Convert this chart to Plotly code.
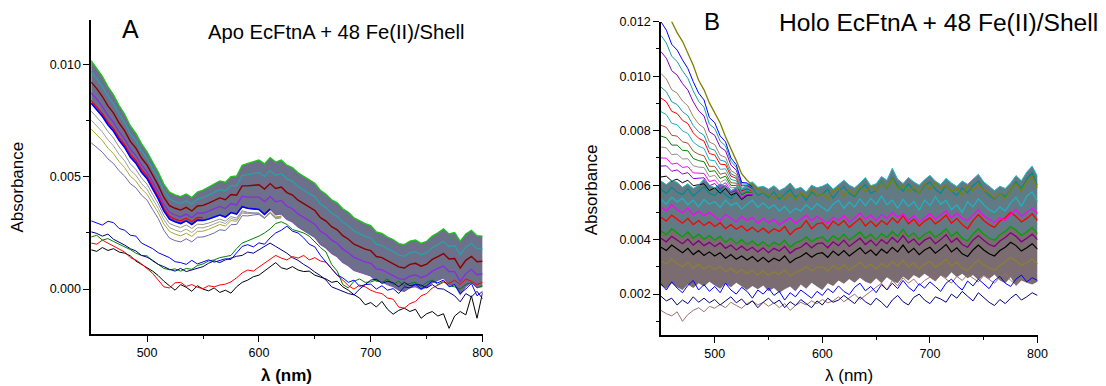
import plotly.graph_objects as go

# Wavelength grid (nm), every 5 nm
WL = list(range(450, 805, 5))
U = 1e-5  # all absorbance values below are in units of 1e-5

# ---------------- Panel A: Apo EcFtnA ----------------
A_TOP = [1018, 985, 948, 902, 866, 818, 779, 728, 694, 648,
         612, 566, 522, 468, 432, 420, 412, 424, 408, 432,
         441, 455, 468, 482, 476, 501, 504, 552, 560, 568,
         575, 558, 586, 566, 575, 552, 541, 518, 502, 488,
         472, 440, 423, 398, 384, 358, 342, 318, 304, 292,
         283, 255, 248, 232, 221, 203, 198, 214, 219, 204,
         213, 236, 251, 268, 246, 252, 214, 246, 262, 238,
         236]
A_BOT = [828, 800, 770, 732, 703, 663, 631, 588, 561, 521,
         492, 446, 402, 348, 312, 300, 292, 304, 288, 307,
         306, 312, 320, 330, 321, 341, 334, 367, 360, 358,
         355, 333, 356, 331, 335, 310, 299, 276, 260, 246,
         230, 198, 183, 158, 144, 118, 104, 83, 74, 64,
         58, 35, 33, 20, 11, -5, -10, 6, 11, -1,
         8, 28, 39, 50, 21, 20, -24, 11, 30, 8,
         11]
A_L1 = [970, 939, 903, 859, 825, 779, 742, 693, 661, 616,
        582, 536, 492, 438, 402, 390, 382, 394, 378, 401,
        407, 419, 431, 444, 437, 461, 461, 506, 510, 515,
        520, 502, 528, 507, 515, 491, 480, 457, 441, 427,
        411, 379, 363, 338, 324, 298, 282, 259, 246, 235,
        227, 200, 194, 179, 168, 151, 146, 162, 167, 153,
        162, 184, 198, 213, 190, 194, 154, 187, 204, 180,
        180]
A_L2 = [922, 893, 858, 816, 784, 740, 705, 658, 628, 584,
        552, 506, 462, 408, 372, 360, 352, 364, 348, 370,
        373, 383, 394, 406, 398, 421, 418, 460, 460, 462,
        465, 446, 470, 448, 455, 430, 419, 396, 380, 366,
        350, 318, 303, 278, 264, 238, 222, 200, 188, 178,
        171, 145, 140, 126, 115, 99, 94, 110, 115, 102,
        111, 132, 145, 158, 134, 136, 94, 128, 146, 122,
        124]
A_L3 = [874, 847, 813, 773, 743, 701, 668, 623, 595, 552,
        522, 476, 432, 378, 342, 330, 322, 334, 318, 339,
        339, 347, 357, 368, 359, 381, 375, 414, 410, 409,
        410, 390, 412, 389, 395, 369, 358, 335, 319, 305,
        289, 257, 243, 218, 204, 178, 162, 141, 130, 121,
        115, 90, 86, 73, 62, 47, 42, 58, 63, 51,
        60, 80, 92, 103, 78, 78, 34, 69, 88, 64,
        68]
# early spectra fanning below the band (450-620 nm)
A_GREY = [793, 767, 738, 702, 673, 633, 601, 558, 533, 495, 467, 422, 380, 328, 292, 282, 274, 286,
          270, 289, 288, 294, 302, 312, 303, 323, 316, 349, 342, 340, 337, 315, 338, 313, 317]
A_GREY2 = [753, 728, 700, 665, 638, 600, 571, 530, 507, 470, 444, 401, 360, 309, 274, 263, 255, 267,
           252, 273, 273, 280, 289, 300, 292, 314, 309, 344, 339, 339, 338, 317, 341, 317, 321]
A_OLIVE = [713, 688, 662, 628, 603, 568, 541, 503, 481, 446, 422, 380, 340, 290, 257, 245, 237, 249,
           235, 257, 258, 266, 276, 288, 281, 305, 302, 339, 336, 338, 339, 319, 344, 321, 325]
A_SLATE = [652, 632, 610, 580, 559, 527, 503, 470, 451, 419, 396, 354, 314, 262, 227, 216, 210, 224,
           210, 231, 232, 240, 250, 264, 261, 287, 288, 327, 326, 330, 333, 315, 341, 319, 325]
A_REDEDGE = [840, 812, 782, 744, 715, 675, 643, 600, 573, 533, 504, 458, 414, 360, 324, 312, 304,
             316, 300, 319, 318]
# first few spectra (low)
A_LBLUE = [304, 296, 285, 302, 296, 270, 262, 240, 236, 205,
           192, 180, 162, 150, 140, 122, 118, 110, 128, 112,
           122, 130, 120, 128, 135, 132, 160, 190, 198, 188,
           206, 200, 228, 250, 262, 280, 258, 250, 228, 200,
           188, 150, 120, 90, 62, 50, 30, 40, 12, 20,
           22, 0, 15, -5, 2, -20, 10, 5, 22, 0,
           15, 35, 28, 40, 10, 20, -20, 0, 25, -30,
           -10]
A_NAVY = [255, 248, 236, 245, 222, 210, 196, 180, 170, 150,
          142, 128, 110, 100, 88, 80, 92, 78, 85, 95,
          100, 115, 126, 118, 130, 138, 146, 150, 165, 160,
          176, 190, 205, 190, 174, 160, 140, 128, 110, 95,
          76, 60, 40, 10, 0, -10, -20, -26, 0, 20,
          40, 44, 25, 35, 28, 10, 30, 15, 20, 18,
          5, 20, 2, 0, -15, -30, -57, -20, -35, -10,
          -43]
A_GREEN = [232, 240, 218, 225, 212, 200, 185, 176, 160, 150,
           148, 125, 110, 92, 86, 90, 80, 92, 88, 105,
           112, 125, 130, 140, 145, 150, 180, 205, 215, 225,
           236, 250, 268, 292, 300, 288, 265, 258, 250, 236,
           210, 185, 165, 110, 80, 20, 5, 35, 45, 30,
           32, 40, 30, 45, 20, 35, 15, 25, 30, 10,
           30, 40, 20, 35, 15, 10, 0, 20, 30, 5,
           15]
A_RED = [205, 200, 218, 205, 190, 178, 165, 140, 130, 112,
         90, 70, 40, 10, 5, 28, 30, 12, 20, 8,
         2, 15, 10, 18, 22, 32, 50, 72, 85, 80,
         98, 115, 135, 150, 138, 130, 145, 138, 150, 130,
         140, 125, 120, 90, 62, 40, 15, 0, 18, 10,
         -5, -15, -20, -40, -45, -80, -85, -65, -55, -30,
         -20, 5, 18, 30, 25, 40, 20, 45, 35, 20,
         30]
A_BLACK = [175, 168, 185, 172, 180, 165, 160, 148, 125, 110,
           92, 80, 60, 35, 15, -5, 20, 8, -10, 15,
           0, -8, 5, -15, -5, -18, 10, 30, 40, 55,
           62, 80, 100, 118, 95, 88, 100, 85, 78, 80,
           62, 55, 45, 30, 35, 10, -5, -25, -40, -70,
           -60, -80, -55, -90, -112, -95, -85, -100, -90, -130,
           -110, -100, -120, -110, -175, -120, -100, -115, -30, -130,
           -15]

# ---------------- Panel B: Holo EcFtnA ----------------
B_TOP = [1280, 1240, 1195, 1160, 1128, 1082, 1040, 985, 950, 902,
         862, 828, 778, 735, 690, 642, 618, 600, 588, 572,
         566, 552, 565, 548, 570, 545, 572, 556, 585, 560,
         570, 550, 580, 588, 560, 582, 565, 595, 575, 598,
         580, 610, 590, 625, 585, 600, 575, 595, 570, 605,
         585, 610, 588, 600, 575, 590, 562, 598, 580, 605,
         582, 570, 552, 570, 550, 585, 605, 578, 615, 632,
         590]
B_DTOP = [615, 602, 618, 610, 592, 605, 588, 600, 622, 600,
          590, 605, 596, 578, 592, 585, 602, 612, 592, 596,
          585, 598, 580, 590, 608, 585, 592, 575, 600, 590,
          596, 606, 585, 600, 618, 600, 590, 608, 628, 598,
          605, 632, 618, 662, 622, 606, 628, 612, 600, 620,
          636, 615, 602, 625, 608, 595, 615, 603, 622, 640,
          612, 595, 580, 596, 588, 608, 635, 616, 648, 670,
          632]
B_DBOT = [232, 220, 240, 225, 215, 235, 222, 240, 228, 245,
          232, 220, 238, 225, 242, 228, 215, 230, 218, 232,
          210, 222, 205, 218, 228, 210, 235, 220, 242, 228,
          215, 240, 230, 250, 238, 255, 242, 260, 245, 238,
          258, 240, 262, 248, 240, 265, 250, 270, 258, 275,
          262, 248, 270, 258, 280, 262, 275, 258, 270, 252,
          268, 255, 272, 250, 240, 262, 230, 250, 242, 235,
          245]
B_TEAL2 = [585, 570, 592, 575, 565, 588, 560, 578, 595, 570,
           562, 585, 565, 550, 572, 555, 575, 590, 562, 572,
           555, 575, 548, 566, 585, 555, 570, 545, 575, 560,
           568, 585, 552, 578, 595, 570, 558, 585, 602, 570,
           580, 612, 588, 630, 598, 578, 605, 582, 570, 598,
           612, 585, 570, 600, 578, 562, 590, 572, 598, 615,
           582, 562, 548, 570, 558, 582, 612, 588, 622, 645,
           600]
B_CYAN = [548, 530, 556, 538, 552, 528, 545, 520, 548, 530,
          540, 518, 545, 525, 536, 512, 530, 545, 518, 535,
          515, 528, 505, 522, 498, 515, 505, 528, 510, 532,
          518, 505, 530, 545, 515, 538, 520, 550, 525, 552,
          530, 560, 528, 545, 515, 548, 522, 540, 508, 545,
          525, 558, 530, 545, 510, 528, 500, 540, 520, 550,
          528, 510, 500, 520, 505, 535, 555, 522, 560, 575,
          540]
B_MAG = [520, 505, 528, 510, 498, 515, 490, 505, 488, 500,
         485, 470, 492, 478, 465, 485, 470, 482, 460, 478,
         462, 475, 455, 468, 480, 460, 475, 490, 470, 485,
         472, 460, 482, 470, 488, 465, 480, 498, 475, 490,
         470, 492, 478, 500, 482, 495, 470, 488, 465, 480,
         495, 475, 490, 505, 480, 496, 478, 470, 490, 510,
         488, 475, 462, 480, 470, 492, 510, 485, 500, 515,
         495]
B_RED = [482, 468, 490, 475, 460, 478, 455, 470, 452, 465,
         448, 462, 440, 455, 438, 450, 432, 445, 428, 442,
         425, 440, 430, 448, 418, 438, 445, 470, 440, 458,
         462, 440, 468, 452, 470, 445, 462, 478, 450, 468,
         448, 470, 455, 480, 462, 488, 458, 475, 450, 468,
         480, 458, 472, 490, 460, 478, 455, 440, 470, 492,
         470, 455, 445, 468, 480, 500, 485, 465, 478, 495,
         470]
B_GREEN = [432, 418, 440, 425, 410, 428, 405, 420, 402, 415,
           398, 412, 390, 405, 385, 400, 382, 395, 378, 392,
           375, 390, 380, 398, 372, 388, 395, 410, 392, 405,
           410, 392, 415, 400, 420, 398, 412, 428, 405, 420,
           400, 422, 408, 430, 412, 438, 410, 425, 402, 420,
           430, 408, 422, 440, 412, 428, 405, 395, 420, 440,
           420, 405, 398, 418, 430, 448, 435, 415, 428, 445,
           422]
B_PURPLE = [405, 392, 412, 398, 385, 402, 380, 396, 378, 390,
            375, 388, 368, 380, 362, 376, 360, 372, 355, 370,
            352, 368, 358, 375, 350, 365, 372, 388, 370, 385,
            388, 370, 392, 378, 398, 375, 390, 405, 382, 398,
            378, 400, 385, 408, 390, 415, 388, 402, 380, 398,
            408, 385, 400, 418, 390, 405, 382, 372, 398, 415,
            398, 382, 375, 395, 408, 425, 412, 392, 405, 420,
            400]
B_BLACK = [372, 360, 380, 365, 352, 368, 345, 360, 342, 355,
           340, 352, 332, 345, 328, 340, 325, 338, 320, 335,
           318, 332, 322, 340, 315, 330, 338, 352, 335, 348,
           352, 335, 358, 342, 360, 340, 355, 370, 348, 362,
           342, 365, 350, 372, 355, 380, 352, 368, 345, 362,
           372, 350, 365, 382, 355, 370, 348, 338, 362, 380,
           362, 348, 340, 360, 372, 390, 378, 358, 370, 385,
           365]
B_OLIVE = [322, 310, 330, 312, 300, 318, 295, 310, 292, 305,
           290, 302, 282, 296, 278, 290, 275, 288, 270, 285,
           268, 282, 272, 290, 265, 280, 288, 300, 285, 298,
           300, 285, 305, 290, 308, 288, 302, 318, 296, 310,
           292, 312, 298, 320, 302, 325, 300, 315, 292, 310,
           320, 298, 312, 328, 302, 318, 296, 285, 308, 325,
           308, 295, 288, 305, 318, 335, 322, 305, 315, 330,
           310]
B_LBLUE = [238, 215, 245, 222, 205, 232, 250, 215, 235, 210,
           228, 205, 240, 215, 200, 225, 210, 185, 215, 200,
           222, 195, 210, 178, 205, 190, 215, 200, 185, 210,
           195, 220, 205, 230, 210, 198, 225, 240, 212, 228,
           205, 235, 215, 240, 220, 250, 225, 210, 238, 222,
           245, 228, 210, 240, 255, 232, 215, 248, 230, 255,
           238, 220, 250, 265, 240, 228, 255, 270, 245, 260,
           250]
B_NAVY = [192, 175, 185, 160, 178, 165, 190, 170, 185, 168,
          180, 160, 175, 190, 168, 182, 160, 175, 150, 170,
          185, 165, 178, 150, 172, 158, 180, 165, 150, 175,
          160, 185, 170, 178, 195, 180, 165, 190, 172, 160,
          185, 170, 150, 178, 195, 172, 160, 188, 200, 178,
          165, 190, 182, 170, 200, 185, 210, 192, 175, 205,
          188, 170, 158, 180, 165, 185, 200, 178, 190, 205,
          195]
B_BROWN = [140, 128, 120, 135, 100, 125, 140, 150, 135, 155,
           148, 162, 150, 170, 158, 148, 165, 175, 160, 170,
           155, 168, 150, 165, 140, 158, 170, 160, 175, 165,
           180, 168, 175, 190, 172, 185, 200, 180, 195, 210,
           225, 240, 215, 250, 230, 260, 240, 255, 232, 250,
           262, 248, 270, 255, 240, 265, 250, 272, 258, 245,
           268, 255, 240, 262, 275, 250, 235, 260, 248, 258,
           250]
# later spectra in the UV tail (450-535 nm; beyond that they merge into the band)
B_F0 = [1200, 1169, 1117, 1096, 1060, 1028, 980, 938, 913, 848, 829, 781, 759, 700, 675, 610, 608, 593]
B_F1 = [1150, 1122, 1073, 1054, 1020, 992, 946, 908, 886, 824, 808, 762, 744, 688, 666, 604, 604, 590]
B_F2 = [1090, 1066, 1020, 1004, 973, 949, 906, 873, 854, 796, 783, 740, 726, 674, 655, 597, 599, 587]
B_F3 = [1010, 990, 950, 938, 909, 891, 852, 825, 810, 758, 749, 710, 702, 654, 641, 589, 593, 583]
B_F3B = [960, 943, 906, 896, 870, 855, 819, 796, 783, 735, 728, 692, 687, 642, 632, 583, 589, 581]
B_F4 = [920, 906, 871, 863, 838, 826, 792, 772, 762, 716, 711, 677, 675, 633, 625, 579, 586, 578]
B_F5 = [870, 859, 827, 822, 799, 790, 758, 743, 735, 692, 690, 658, 660, 621, 616, 573, 582, 576]
B_F5B = [820, 812, 783, 780, 759, 754, 725, 713, 708, 669, 669, 640, 645, 609, 607, 568, 578, 574]
B_F6 = [780, 774, 747, 747, 728, 726, 698, 690, 686, 650, 653, 625, 633, 599, 599, 563, 574, 572]
B_F7 = [740, 737, 712, 714, 696, 697, 671, 666, 665, 631, 636, 610, 621, 590, 592, 559, 571, 570]
B_F7B = [700, 699, 677, 681, 665, 668, 645, 643, 643, 613, 619, 596, 609, 580, 585, 555, 568, 568]
B_F8 = [670, 671, 651, 656, 641, 646, 624, 625, 627, 598, 606, 584, 600, 573, 580, 551, 566, 566]
B_F9 = [630, 633, 615, 622, 609, 618, 598, 601, 605, 580, 590, 570, 588, 563, 572, 547, 562, 564]

FONT = "Liberation Sans, Arial, sans-serif"
fig = go.Figure()


def add(y, color, width=1.0, panel="A", fill=None, fillcolor=None):
    xa, ya = ("x", "y") if panel == "A" else ("x2", "y2")
    xs = WL[:len(y)]
    fig.add_trace(go.Scatter(
        x=xs, y=[v * U for v in y], mode="lines", xaxis=xa, yaxis=ya,
        line=dict(color=color, width=width), fill=fill, fillcolor=fillcolor,
        hoverinfo="skip", showlegend=False))


# Panel A
add(A_BOT, "rgba(0,0,0,0)", 0, "A")
add(A_TOP, "rgba(0,0,0,0)", 0, "A", fill="tonexty", fillcolor="rgb(108,112,138)")
add(A_SLATE, "#6a6ab0", 1, "A")
add(A_OLIVE, "#a8a830", 1, "A")
add(A_GREY2, "#a0a0a0", 1, "A")
add(A_GREY, "#909090", 1, "A")
add(A_BOT, "#7a5aa8", 1.2, "A")
add(A_L3, "#8a2be2", 1.3, "A")
add(A_L2, "#8b0000", 1.4, "A")
add(A_L1, "#2aa0a8", 1.3, "A")
add(A_REDEDGE, "#ff0000", 1.3, "A")
add(A_BOT[:33], "#0000ff", 1.6, "A")
add(A_TOP, "#19c819", 1.3, "A")
add(A_BLACK, "#000000", 1, "A")
add(A_RED, "#ff0000", 1, "A")
add(A_GREEN, "#008000", 1, "A")
add(A_NAVY, "#000080", 1, "A")
add(A_LBLUE, "#0000ff", 1, "A")

# Panel B
add(B_DBOT, "rgba(0,0,0,0)", 0, "B")
add(B_GREEN, "rgba(0,0,0,0)", 0, "B", fill="tonexty", fillcolor="rgb(122,108,112)")
add(B_DTOP, "rgba(0,0,0,0)", 0, "B", fill="tonexty", fillcolor="rgb(98,122,132)")
add(B_BROWN, "#a07070", 1, "B")
add(B_NAVY, "#000080", 1, "B")
add(B_LBLUE, "#0000ff", 1, "B")
add(B_OLIVE, "#8b7d3a", 1.4, "B")
add(B_BLACK, "#000000", 1.2, "B")
add(B_PURPLE, "#800080", 1.3, "B")
add(B_GREEN, "#00a000", 1.3, "B")
add(B_RED, "#ff0000", 1.3, "B")
add(B_MAG, "#ff00ff", 1.3, "B")
add(B_CYAN, "#20b0c0", 1.3, "B")
add(B_TEAL2, "#008b8b", 1.2, "B")
for arr, col in [(B_F9, "#000000"), (B_F8, "#9400d3"), (B_F7B, "#ff00ff"), (B_F7, "#909090"),
                 (B_F6, "#008000"), (B_F5B, "#a0522d"), (B_F5, "#20b0c0"), (B_F4, "#ff0000"),
                 (B_F3B, "#1a9aa8"), (B_F3, "#a08070"), (B_F2, "#8000c0"), (B_F1, "#1a9aa8"),
                 (B_F0, "#0000ff")]:
    add(arr, col, 1, "B")
add(B_TOP, "#808000", 1.3, "B")
add(B_DTOP, "#20b8c8", 1.0, "B")

axis_common = dict(showline=True, linecolor="black", linewidth=1.5, ticks="outside",
                   ticklen=6, tickwidth=1.3, tickcolor="black", showgrid=False, zeroline=False,
                   tickfont=dict(family=FONT, size=12.5, color="black"))
minor_common = dict(ticks="outside", ticklen=3.5, tickwidth=1.2, tickcolor="black")

fig.update_layout(
    width=1106, height=386, margin=dict(l=0, r=0, t=0, b=0),
    paper_bgcolor="white", plot_bgcolor="white", showlegend=False,
    xaxis=dict(domain=[92 / 1106, 487 / 1106], range=[450, 800], anchor="y",
               tickvals=[500, 600, 700, 800], minor=dict(tickvals=[550, 650, 750], **minor_common),
               **axis_common),
    yaxis=dict(domain=[53 / 386, 373 / 386], range=[-0.002, 0.012], anchor="x",
               tickvals=[0, 0.005, 0.010], ticktext=["0.000", "0.005", "0.010"],
               minor=dict(tickvals=[0.0025, 0.0075], **minor_common), **axis_common),
    xaxis2=dict(domain=[667 / 1106, 1047 / 1106], range=[450, 800], anchor="y2",
                tickvals=[500, 600, 700, 800], minor=dict(tickvals=[550, 650, 750], **minor_common),
                **axis_common),
    yaxis2=dict(domain=[52 / 386, 371 / 386], range=[0.0005, 0.012], anchor="x2",
                tickvals=[0.002, 0.004, 0.006, 0.008, 0.010, 0.012],
                ticktext=["0.002", "0.004", "0.006", "0.008", "0.010", "0.012"],
                minor=dict(tickvals=[0.001, 0.003, 0.005, 0.007, 0.009, 0.011], **minor_common),
                **axis_common),
)


def ann(text, px, py, size, xanchor="center", angle=0):
    fig.add_annotation(text=text, x=px / 1106, y=1 - py / 386, xref="paper", yref="paper",
                       xanchor=xanchor, yanchor="middle", showarrow=False, textangle=angle,
                       font=dict(family=FONT, size=size, color="black"))


ann("A", 132, 22, 25)
ann("Apo EcFtnA + 48 Fe(II)/Shell", 208, 25, 20.2, xanchor="left")
ann("B", 719, 15, 24)
ann("Holo EcFtnA + 48 Fe(II)/Shell", 784, 16, 24.6, xanchor="left")
ann("Absorbance", 18, 183, 17, angle=-90)
ann("<b>λ (nm)</b>", 289.5, 375, 17)
ann("Absorbance", 597, 186, 17, angle=-90)
ann("λ (nm)", 857, 375, 17)

fig.write_html("out.html")
